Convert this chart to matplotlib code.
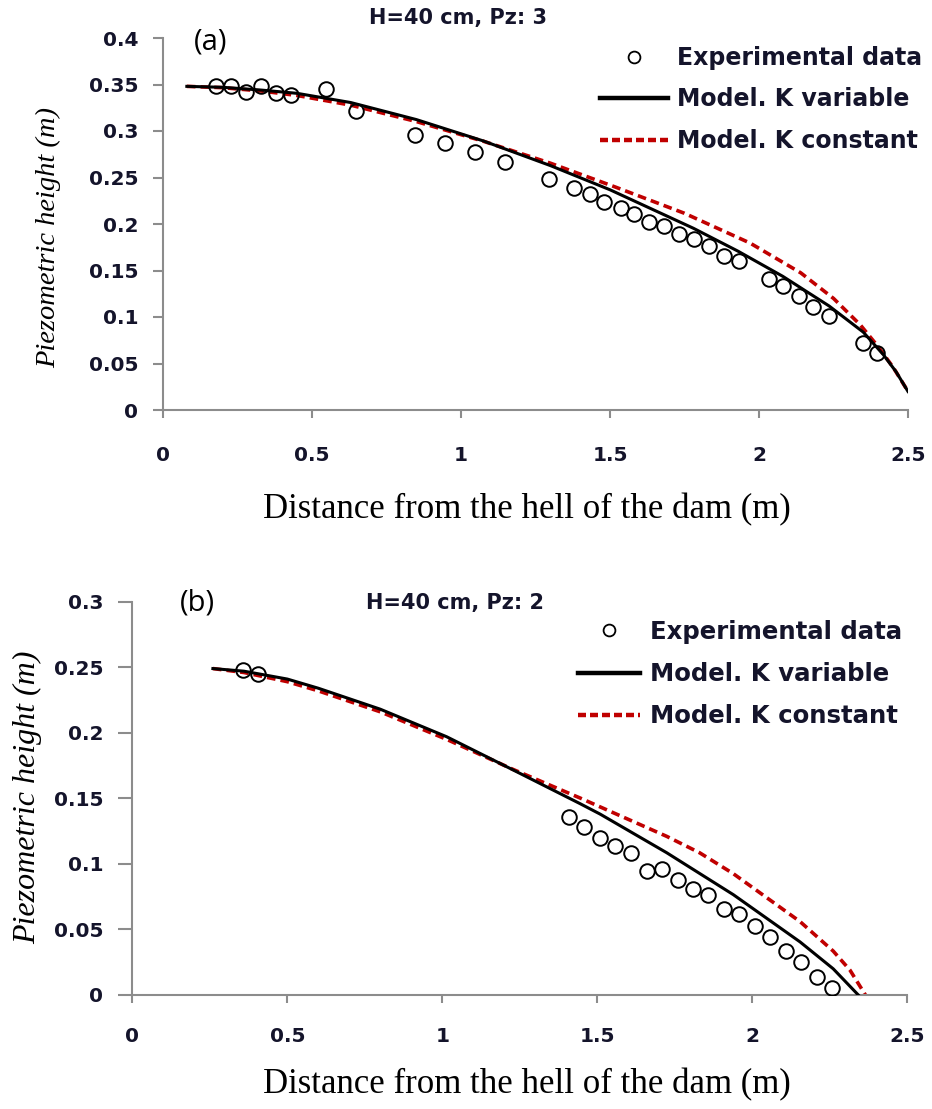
import matplotlib
matplotlib.use("Agg")
import matplotlib.pyplot as plt
from matplotlib.lines import Line2D

# ---------------- data: panel (a) H=40 cm, Pz: 3 ----------------
a_exp_x = [0.177, 0.227, 0.277, 0.328, 0.378, 0.430, 0.547, 0.647, 0.846, 0.946,
           1.047, 1.148, 1.296, 1.379, 1.433, 1.480, 1.536, 1.581, 1.632, 1.682,
           1.733, 1.783, 1.833, 1.884, 1.934, 2.035, 2.082, 2.135, 2.182, 2.235,
           2.350, 2.397]
a_exp_y = [0.348, 0.348, 0.342, 0.348, 0.341, 0.339, 0.345, 0.321, 0.296, 0.287,
           0.277, 0.267, 0.248, 0.239, 0.232, 0.224, 0.217, 0.211, 0.202, 0.198,
           0.189, 0.184, 0.176, 0.166, 0.160, 0.141, 0.133, 0.123, 0.111, 0.101,
           0.072, 0.061]
a_var_x = [0.08, 0.20, 0.33, 0.45, 0.63, 0.85, 1.075, 1.30, 1.50, 1.78, 1.93,
           2.08, 2.235, 2.35, 2.417, 2.46, 2.50]
a_var_y = [0.348, 0.3470, 0.3440, 0.3405, 0.3306, 0.3123, 0.2893, 0.2628, 0.2368,
           0.1954, 0.1707, 0.1437, 0.1119, 0.0837, 0.0596, 0.0411, 0.0199]
a_con_x = [0.08, 0.20, 0.33, 0.45, 0.63, 0.85, 1.075, 1.30, 1.52, 1.75, 1.97,
           2.14, 2.25, 2.34, 2.395, 2.45, 2.50]
a_con_y = [0.348, 0.3466, 0.3430, 0.3382, 0.3278, 0.3102, 0.2890, 0.2654, 0.2395,
           0.2115, 0.1795, 0.1475, 0.1200, 0.0915, 0.0700, 0.0460, 0.0200]

# ---------------- data: panel (b) H=40 cm, Pz: 2 ----------------
b_exp_x = [0.356, 0.405, 1.409, 1.458, 1.509, 1.557, 1.608, 1.659, 1.710, 1.759,
           1.808, 1.856, 1.909, 1.957, 2.009, 2.057, 2.109, 2.156, 2.208, 2.256]
b_exp_y = [0.248, 0.245, 0.1355, 0.128, 0.1195, 0.114, 0.108, 0.0946, 0.0959, 0.0877,
           0.0809, 0.0763, 0.0656, 0.0618, 0.0529, 0.0445, 0.0338, 0.0254, 0.0135, 0.0051]
b_var_x = [0.26, 0.36, 0.50, 0.60, 0.80, 1.014, 1.229, 1.444, 1.509, 1.724, 1.939,
           2.154, 2.261, 2.342]
b_var_y = [0.249, 0.247, 0.241, 0.234, 0.218, 0.197, 0.1716, 0.146, 0.138, 0.1085,
           0.0765, 0.0405, 0.020, 0.0]
b_con_x = [0.26, 0.36, 0.50, 0.60, 0.80, 1.014, 1.229, 1.444, 1.552, 1.724, 1.83,
           1.939, 2.154, 2.261, 2.315, 2.365]
b_con_y = [0.249, 0.246, 0.239, 0.232, 0.216, 0.195, 0.172, 0.1503, 0.1390, 0.1210,
           0.1085, 0.0925, 0.0560, 0.0335, 0.0190, 0.0]

x_ticks = [0, 0.5, 1, 1.5, 2, 2.5]
x_ticklabels = ["0", "0.5", "1", "1.5", "2", "2.5"]
a_y_ticks = [0, 0.05, 0.1, 0.15, 0.2, 0.25, 0.3, 0.35, 0.4]
a_y_ticklabels = ["0", "0.05", "0.1", "0.15", "0.2", "0.25", "0.3", "0.35", "0.4"]
b_y_ticks = [0, 0.05, 0.1, 0.15, 0.2, 0.25, 0.3]
b_y_ticklabels = ["0", "0.05", "0.1", "0.15", "0.2", "0.25", "0.3"]

labels = ["Experimental data", "Model. K variable", "Model. K constant"]
titles = ["H=40 cm, Pz: 3", "H=40 cm, Pz: 2"]
panel_tags = ["(a)", "(b)"]
x_label = "Distance from the hell of the dam (m)"
y_label = "Piezometric height (m)"

TXT = "#14142b"
SPINE = "#8c8c8c"
RED = "#c00000"
BOLD_FONT = ["DejaVu Sans"]
TAG_FONT = ["Open Sans", "DejaVu Sans"]
SERIF = ["Liberation Serif", "DejaVu Serif"]

fig = plt.figure(figsize=(9.32, 11.09), dpi=100)
W, H = 932, 1109


def axes_px(x0, x1, ytop, ybot):
    return fig.add_axes([x0 / W, 1 - ybot / H, (x1 - x0) / W, (ybot - ytop) / H])


def draw_panel(ax, ex, ey, vx, vy, cx, cy, yt, ytl, ymax, title, tag,
               title_xy, tag_xy, leg_xy, leg_size, leg_hlen, xlabel_y,
               ylabel_xy, ylabel_size, xpad, ytick_len):
    ax.plot(cx, cy, color=RED, lw=2.6, linestyle=(0, (2.4, 1.4)), zorder=2)
    ax.plot(vx, vy, color="black", lw=2.2, zorder=3)
    ax.plot(ex, ey, linestyle="none", marker="o", markersize=10.5,
            markerfacecolor="none", markeredgecolor="black", markeredgewidth=1.4,
            zorder=4)
    ax.set_xlim(0, 2.5)
    ax.set_ylim(0, ymax)
    ax.set_xticks(x_ticks)
    ax.set_xticklabels(x_ticklabels)
    ax.set_yticks(yt)
    ax.set_yticklabels(ytl)
    for s in ("top", "right"):
        ax.spines[s].set_visible(False)
    for s in ("left", "bottom"):
        ax.spines[s].set_color(SPINE)
        ax.spines[s].set_linewidth(1.5)
    ax.tick_params(axis="both", direction="out", width=1.5, color=SPINE,
                   labelsize=14.5, labelcolor=TXT)
    ax.tick_params(axis="x", pad=xpad, length=6)
    ax.tick_params(axis="y", pad=11, length=ytick_len)
    for lab in ax.get_xticklabels() + ax.get_yticklabels():
        lab.set_family(BOLD_FONT)
        lab.set_fontweight("bold")
    ax.patch.set_alpha(0)

    fig.text(title_xy[0] / W, 1 - title_xy[1] / H, title, ha="center", va="center",
             fontsize=15, fontweight="bold", color=TXT, family=BOLD_FONT)
    fig.text(tag_xy[0] / W, 1 - tag_xy[1] / H, tag, ha="center", va="center",
             fontsize=21, color="black", family=TAG_FONT)
    fig.text(527 / W, 1 - xlabel_y / H, x_label, ha="center", va="center",
             fontsize=25, color="black", family=SERIF)
    fig.text(ylabel_xy[0] / W, 1 - ylabel_xy[1] / H, y_label, ha="center",
             va="center", fontsize=ylabel_size, color="black", family=SERIF,
             style="italic", rotation=90)

    handles = [
        Line2D([], [], linestyle="none", marker="o", markersize=8.5,
               markerfacecolor="none", markeredgecolor="black", markeredgewidth=1.3),
        Line2D([], [], color="black", lw=3.2),
        Line2D([], [], color=RED, lw=3.2, linestyle=(0, (1.8, 0.9))),
    ]
    leg = fig.legend(handles, labels, loc="upper left",
                     bbox_to_anchor=(leg_xy[0] / W, 1 - leg_xy[1] / H),
                     frameon=False, handlelength=leg_hlen, handletextpad=0.38,
                     labelspacing=0.74, borderaxespad=0, borderpad=0,
                     prop={"family": BOLD_FONT, "weight": "bold", "size": leg_size})
    for t in leg.get_texts():
        t.set_color(TXT)


ax1 = axes_px(163, 908, 38, 410)
draw_panel(ax1, a_exp_x, a_exp_y, a_var_x, a_var_y, a_con_x, a_con_y,
           a_y_ticks, a_y_ticklabels, 0.4, titles[0], panel_tags[0],
           (458, 18), (211, 42), (600, 46), 17, 2.9, 510, (49, 238), 20.5, 20, 7)

ax2 = axes_px(132.3, 907.3, 601.7, 995)
draw_panel(ax2, b_exp_x, b_exp_y, b_var_x, b_var_y, b_con_x, b_con_y,
           b_y_ticks, b_y_ticklabels, 0.3, titles[1], panel_tags[1],
           (455, 603), (197, 603), (578, 620), 17.6, 2.55, 1085, (28, 797), 23, 17, 10)

fig.savefig("out.png", dpi=100)
